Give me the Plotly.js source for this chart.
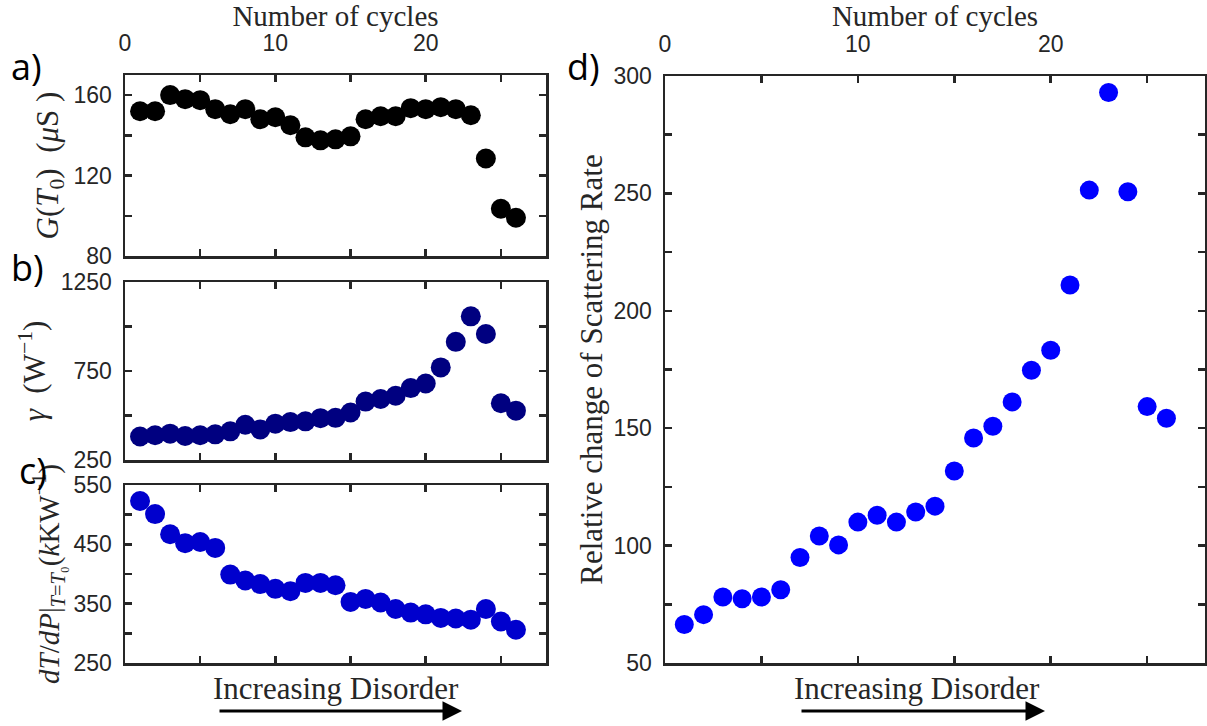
<!DOCTYPE html>
<html>
<head>
<meta charset="utf-8">
<script src="https://cdn.plot.ly/plotly-3.0.1.min.js"></script>
<style>
  html, body { margin: 0; padding: 0; background: #ffffff; }
  #chart { width: 1207px; height: 726px; }
</style>
</head>
<body>
<div id="chart"></div>
<script>
// Cycle index shared by all four panels
const cycles = [1, 2, 3, 4, 5, 6, 7, 8, 9, 10, 11, 12, 13, 14, 15, 16, 17, 18, 19, 20, 21, 22, 23, 24, 25, 26];

// a) conductance at T0 (µS)
const conductance = [152, 152, 160, 158, 157.5, 153, 150.5, 153, 148, 149, 145, 139, 137.5, 138, 139.5,
                     148, 149.5, 149.5, 153.5, 153, 154, 153, 150, 128.5, 103.5, 99];

// b) gamma (W^-1)
const gammaVals = [382, 389, 398, 385, 389, 394, 411, 448, 422, 454, 463, 467, 485, 487, 517,
                   578, 593, 611, 654, 680, 770, 914, 1057, 958, 569, 527];

// c) dT/dP at T = T0 (kK/W)
const dTdP = [523, 501, 467, 452, 454, 444, 399, 389, 383, 375, 371, 385, 385, 381, 353,
              358, 352, 341, 335, 332, 326, 325, 323, 341, 320, 306];

// d) relative change of scattering rate
const scatterRate = [66.4, 70.6, 78.1, 77.4, 78.1, 81.2, 94.9, 104.1, 100.3, 110.0, 112.9, 110.0, 114.3, 116.8, 131.8,
                     145.8, 150.8, 161.2, 174.7, 183.2, 211, 251.4, 293, 250.7, 159.2, 154.2];

// Tick values / labels
const xTickMarks = [5, 10, 15, 20, 25];
const xTopLabels = [0, 10, 20];
const yTicksA = [80, 100, 120, 140, 160];
const yLabelsA = ['80', '', '120', '', '160'];
const yTicksB = [250, 500, 750, 1000, 1250];
const yLabelsB = ['250', '', '750', '', '1250'];
const yTicksC = [250, 300, 350, 400, 450, 500, 550];
const yLabelsC = ['250', '', '350', '', '450', '', '550'];
const yTicksD = [50, 75, 100, 125, 150, 175, 200, 225, 250, 275, 300];
const yLabelsD = ['50', '', '100', '', '150', '', '200', '', '250', '', '300'];

const W = 1207, H = 726;
const px = v => v / W;             // horizontal pixel -> paper fraction
const py = v => 1 - v / H;         // vertical pixel (from top) -> paper fraction

const axisColor = '#262626';
const serif = 'Liberation Serif, Times New Roman, serif';
const sans = 'Liberation Sans, Arial, sans-serif';

const leftDom = [px(125), px(546)];
const rightDom = [px(665), px(1205)];
const domA = [py(256), py(75)];
const domB = [py(460), py(282)];
const domC = [py(663), py(485)];
const domD = [py(663), py(76)];

const tickStyle = { ticks: 'inside', ticklen: 7, tickwidth: 2.5, tickcolor: axisColor };
const lineStyle = { showline: true, linecolor: axisColor, linewidth: 2.5, mirror: 'ticks',
                    showgrid: false, zeroline: false, fixedrange: true };

// boxed x axis: inside ticks every 5 cycles on both edges, no labels
function boxX(domain, anchor) {
  return Object.assign({
    domain: domain, anchor: anchor, range: [0, 28],
    tickmode: 'array', tickvals: xTickMarks, showticklabels: false
  }, tickStyle, lineStyle);
}
// cycle labels (0, 10, 20) above a panel; the hidden outside ticks set the label gap
function topX(over, anchor) {
  return {
    overlaying: over, anchor: anchor, side: 'top', range: [0, 28],
    tickmode: 'array', tickvals: xTopLabels,
    ticks: 'outside', ticklen: 14, tickcolor: 'rgba(0,0,0,0)',
    tickfont: { family: sans, size: 23, color: axisColor },
    showline: false, showgrid: false, zeroline: false, fixedrange: true,
    title: { text: 'Number of cycles', font: { family: serif, size: 29, color: axisColor }, standoff: 4 }
  };
}
function boxY(domain, anchor, range, vals, labels, title, titleSize, standoff) {
  return Object.assign({
    domain: domain, anchor: anchor, range: range,
    tickmode: 'array', tickvals: vals, ticktext: labels,
    ticklabelstandoff: 6,
    tickfont: { family: sans, size: 23, color: axisColor },
    title: { text: title, font: { family: serif, size: titleSize, color: axisColor }, standoff: standoff }
  }, tickStyle, lineStyle);
}

function dots(x, y, color, size, xa, ya) {
  return {
    x: x, y: y, type: 'scatter', mode: 'markers',
    marker: { color: color, size: size, line: { width: 0 } },
    xaxis: xa, yaxis: ya, hoverinfo: 'x+y', cliponaxis: false
  };
}
// transparent copy that keeps a label-only axis attached to its panel
function carrier(x, y, xa, ya) {
  return {
    x: x, y: y, type: 'scatter', mode: 'markers',
    marker: { opacity: 0, size: 1 }, xaxis: xa, yaxis: ya, hoverinfo: 'skip'
  };
}

const traces = [
  dots(cycles, conductance, '#000000', 20, 'x', 'y'),
  dots(cycles, gammaVals, '#000080', 20, 'x2', 'y2'),
  dots(cycles, dTdP, '#0000CD', 20, 'x3', 'y3'),
  dots(cycles, scatterRate, '#0000FF', 19, 'x4', 'y4'),
  carrier(cycles, conductance, 'x5', 'y'),
  carrier(cycles, scatterRate, 'x6', 'y4')
];

function panelTag(text, x, y) {
  return {
    text: text, xref: 'paper', yref: 'paper', x: px(x), y: py(y),
    xanchor: 'left', yanchor: 'middle', showarrow: false,
    font: { family: 'Open Sans, DejaVu Sans, sans-serif', size: 36, color: '#000000' }
  };
}
function disorderText(cx, cy) {
  return {
    text: 'Increasing Disorder', xref: 'paper', yref: 'paper', x: px(cx), y: py(cy),
    xanchor: 'center', yanchor: 'middle', showarrow: false,
    font: { family: serif, size: 31, color: axisColor }
  };
}
function disorderArrow(x0, x1, yy) {
  return {
    text: '', xref: 'paper', yref: 'paper', x: px(x1), y: py(yy),
    ax: x0 - x1, ay: 0, axref: 'pixel', ayref: 'pixel',
    showarrow: true, arrowhead: 2, arrowsize: 1.3, arrowwidth: 3, arrowcolor: '#000000'
  };
}

const layout = {
  width: W, height: H, autosize: false,
  margin: { l: 0, r: 0, t: 0, b: 0 },
  paper_bgcolor: '#ffffff', plot_bgcolor: '#ffffff',
  showlegend: false,
  font: { family: sans, size: 23, color: axisColor },
  xaxis: boxX(leftDom, 'y'),
  yaxis: boxY(domA, 'x', [80, 170], yTicksA, yLabelsA,
              '<i>G</i>(<i>T</i><sub>0</sub>)  (<i>μ</i>S )', 31, 6),
  xaxis2: boxX(leftDom, 'y2'),
  yaxis2: boxY(domB, 'x2', [250, 1250], yTicksB, yLabelsB,
               '<i>γ</i>  (W<sup>−1</sup>)', 31, 6),
  xaxis3: boxX(leftDom, 'y3'),
  yaxis3: boxY(domC, 'x3', [250, 550], yTicksC, yLabelsC,
               '<i>dT</i>/<i>dP</i>|<sub><i>T</i>=<i>T</i>₀</sub>(<i>k</i>KW<sup>−1</sup>)', 29, 6),
  xaxis4: boxX(rightDom, 'y4'),
  yaxis4: boxY(domD, 'x4', [50, 300], yTicksD, yLabelsD,
               'Relative change of Scattering Rate', 31, 2),
  xaxis5: topX('x', 'y'),
  xaxis6: topX('x4', 'y4'),
  annotations: [
    panelTag('a)', 9, 66),
    panelTag('b)', 9, 268),
    panelTag('c)', 17, 470),
    panelTag('d)', 565, 66),
    disorderText(336, 688),
    disorderText(917, 688),
    disorderArrow(218, 462, 711),
    disorderArrow(800, 1045, 711)
  ]
};

Plotly.newPlot('chart', traces, layout, { displayModeBar: false, staticPlot: true });
</script>
</body>
</html>
